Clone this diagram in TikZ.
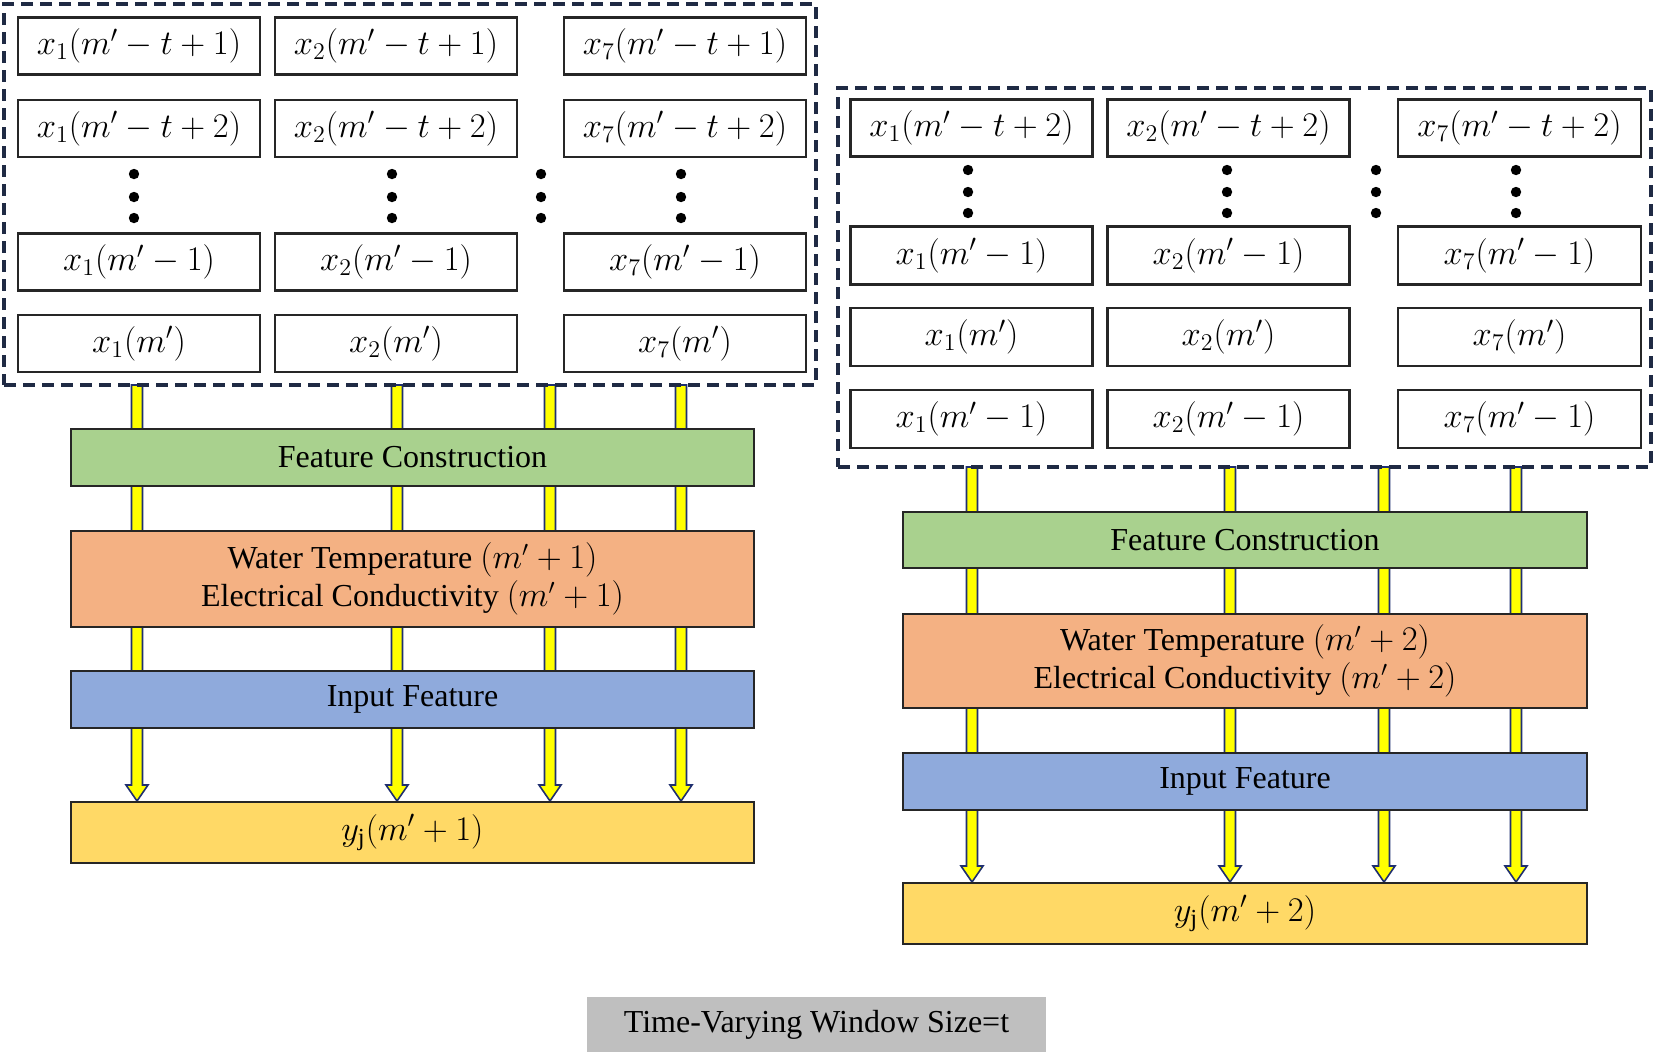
\documentclass[tikz,border=0pt]{standalone}
\usepackage{fontspec}
\setmainfont{Liberation Serif}
\usetikzlibrary{calc}
\definecolor{fcgreen}{HTML}{A9D18E}
\definecolor{wtorange}{HTML}{F4B183}
\definecolor{ifblue}{HTML}{8FAADC}
\definecolor{outyellow}{HTML}{FFD966}
\definecolor{boxgray}{HTML}{BFBFBF}
\definecolor{arryellow}{HTML}{FFFF00}
\definecolor{arrnavy}{HTML}{1F2F6F}
\definecolor{dashnavy}{HTML}{1F2A44}
\pgfdeclarelayer{back}
\pgfdeclarelayer{bg}
\pgfsetlayers{back,bg,main}
\tikzset{
  lbl/.style={font=\fontsize{16}{19}\selectfont, text=black, inner sep=0pt},
  cell/.style={lbl, font=\fontsize{17.5}{20}\selectfont, draw=black!85, line width=1.1pt, fill=white, minimum width=121pt, minimum height=28.5pt},
  stackbox/.style={lbl, draw=black!85, line width=1pt, minimum width=341.5pt, align=center},
  dashbox/.style={draw=dashnavy, line width=1.6pt, dash pattern=on 6pt off 3.5pt, minimum width=406pt, inner sep=0pt},
  yarrowsty/.style={fill=arryellow, draw=arrnavy, line width=0.8pt, line join=miter},
  dotsty/.style={fill=black}
}
\newcommand\yarrow[2]{%
  \draw[yarrowsty] let \p1=(#1), \p2=(#2) in
    (\x1-2.75pt,\y1) -- (\x1-2.75pt,\y2+8pt) -- (\x1-5.5pt,\y2+8pt) -- (\x1,\y2)
    -- (\x1+5.5pt,\y2+8pt) -- (\x1+2.75pt,\y2+8pt) -- (\x1+2.75pt,\y1) -- cycle;}
\begin{document}
\begin{tikzpicture}[x=0.5pt,y=-0.5pt]
\begin{pgfonlayer}{back}
\fill[white] (0,0) rectangle (1654,1057);
\end{pgfonlayer}
\useasboundingbox (0,0) rectangle (1654,1057);

% ---------------- left window ----------------
\node[dashbox, minimum height=190.5pt] (LD) at (410,194.5) {};
\node[cell] (L11) at (139,46) {$x_1(m'-t+1)$};
\node[cell] (L12) at (396,46) {$x_2(m'-t+1)$};
\node[cell] (L13) at (685,46) {$x_7(m'-t+1)$};
\node[cell] (L21) at (139,128.5) {$x_1(m'-t+2)$};
\node[cell] (L22) at (396,128.5) {$x_2(m'-t+2)$};
\node[cell] (L23) at (685,128.5) {$x_7(m'-t+2)$};
\node[cell] (L31) at (139,262) {$x_1(m'-1)$};
\node[cell] (L32) at (396,262) {$x_2(m'-1)$};
\node[cell] (L33) at (685,262) {$x_7(m'-1)$};
\node[cell] (L41) at (139,343.5) {$x_1(m')$};
\node[cell] (L42) at (396,343.5) {$x_2(m')$};
\node[cell] (L43) at (685,343.5) {$x_7(m')$};
\foreach \xx in {134,392,541,681}
  \foreach \yy in {174,197,218}
    \fill[dotsty] (\xx,\yy) circle (2.6pt);

\node[stackbox, fill=fcgreen, minimum height=28.5pt] (lfc) at (412.5,457.5) {Feature Construction};
\node[stackbox, fill=wtorange, minimum height=48pt] (lwt) at (412.5,579) {Water Temperature $(m'+1)$\\Electrical Conductivity $(m'+1)$};
\node[stackbox, fill=ifblue, minimum height=28.5pt] (lif) at (412.5,699.5) {Input Feature};
\node[stackbox, fill=outyellow, minimum height=30.5pt, font=\fontsize{17.5}{20}\selectfont] (ly) at (412.5,832.5) {$y_{\mathrm{j}}(m'+1)$};

\coordinate (la1) at (137,385);
\coordinate (la2) at (397,385);
\coordinate (la3) at (550,385);
\coordinate (la4) at (681,385);
\begin{pgfonlayer}{bg}
\yarrow{la1}{la1 |- ly.north}
\yarrow{la2}{la2 |- ly.north}
\yarrow{la3}{la3 |- ly.north}
\yarrow{la4}{la4 |- ly.north}
\end{pgfonlayer}

% ---------------- right window ----------------
\node[dashbox, minimum width=406.5pt, minimum height=189.5pt] (RD) at (1244.5,277.5) {};
\node[cell] (R11) at (971.5,128) {$x_1(m'-t+2)$};
\node[cell] (R12) at (1228.5,128) {$x_2(m'-t+2)$};
\node[cell, minimum width=121.5pt] (R13) at (1519.5,128) {$x_7(m'-t+2)$};
\node[cell, minimum height=29pt] (R21) at (971.5,255.5) {$x_1(m'-1)$};
\node[cell, minimum height=29pt] (R22) at (1228.5,255.5) {$x_2(m'-1)$};
\node[cell, minimum width=121.5pt, minimum height=29pt] (R23) at (1519.5,255.5) {$x_7(m'-1)$};
\node[cell, minimum height=29pt] (R31) at (971.5,337) {$x_1(m')$};
\node[cell, minimum height=29pt] (R32) at (1228.5,337) {$x_2(m')$};
\node[cell, minimum width=121.5pt, minimum height=29pt] (R33) at (1519.5,337) {$x_7(m')$};
\node[cell, minimum height=29pt] (R41) at (971.5,419) {$x_1(m'-1)$};
\node[cell, minimum height=29pt] (R42) at (1228.5,419) {$x_2(m'-1)$};
\node[cell, minimum width=121.5pt, minimum height=29pt] (R43) at (1519.5,419) {$x_7(m'-1)$};
\foreach \xx in {968,1227,1376,1516}
  \foreach \yy in {170,192,213}
    \fill[dotsty] (\xx,\yy) circle (2.6pt);

\node[stackbox, minimum width=342pt, fill=fcgreen, minimum height=28pt] (rfc) at (1245,540) {Feature Construction};
\node[stackbox, minimum width=342pt, fill=wtorange, minimum height=47pt] (rwt) at (1245,661) {Water Temperature $(m'+2)$\\Electrical Conductivity $(m'+2)$};
\node[stackbox, minimum width=342pt, fill=ifblue, minimum height=28.5pt] (rif) at (1245,781.5) {Input Feature};
\node[stackbox, minimum width=342pt, fill=outyellow, minimum height=30.5pt, font=\fontsize{17.5}{20}\selectfont] (ry) at (1245,913.5) {$y_{\mathrm{j}}(m'+2)$};

\coordinate (ra1) at (972,467);
\coordinate (ra2) at (1230,467);
\coordinate (ra3) at (1384,467);
\coordinate (ra4) at (1516,467);
\begin{pgfonlayer}{bg}
\yarrow{ra1}{ra1 |- ry.north}
\yarrow{ra2}{ra2 |- ry.north}
\yarrow{ra3}{ra3 |- ry.north}
\yarrow{ra4}{ra4 |- ry.north}
\end{pgfonlayer}

% ---------------- caption box ----------------
\node[lbl, fill=boxgray, minimum width=229.5pt, minimum height=27.5pt] (tw) at (816.5,1024.5) {Time-Varying Window Size=t};
\end{tikzpicture}
\end{document}
